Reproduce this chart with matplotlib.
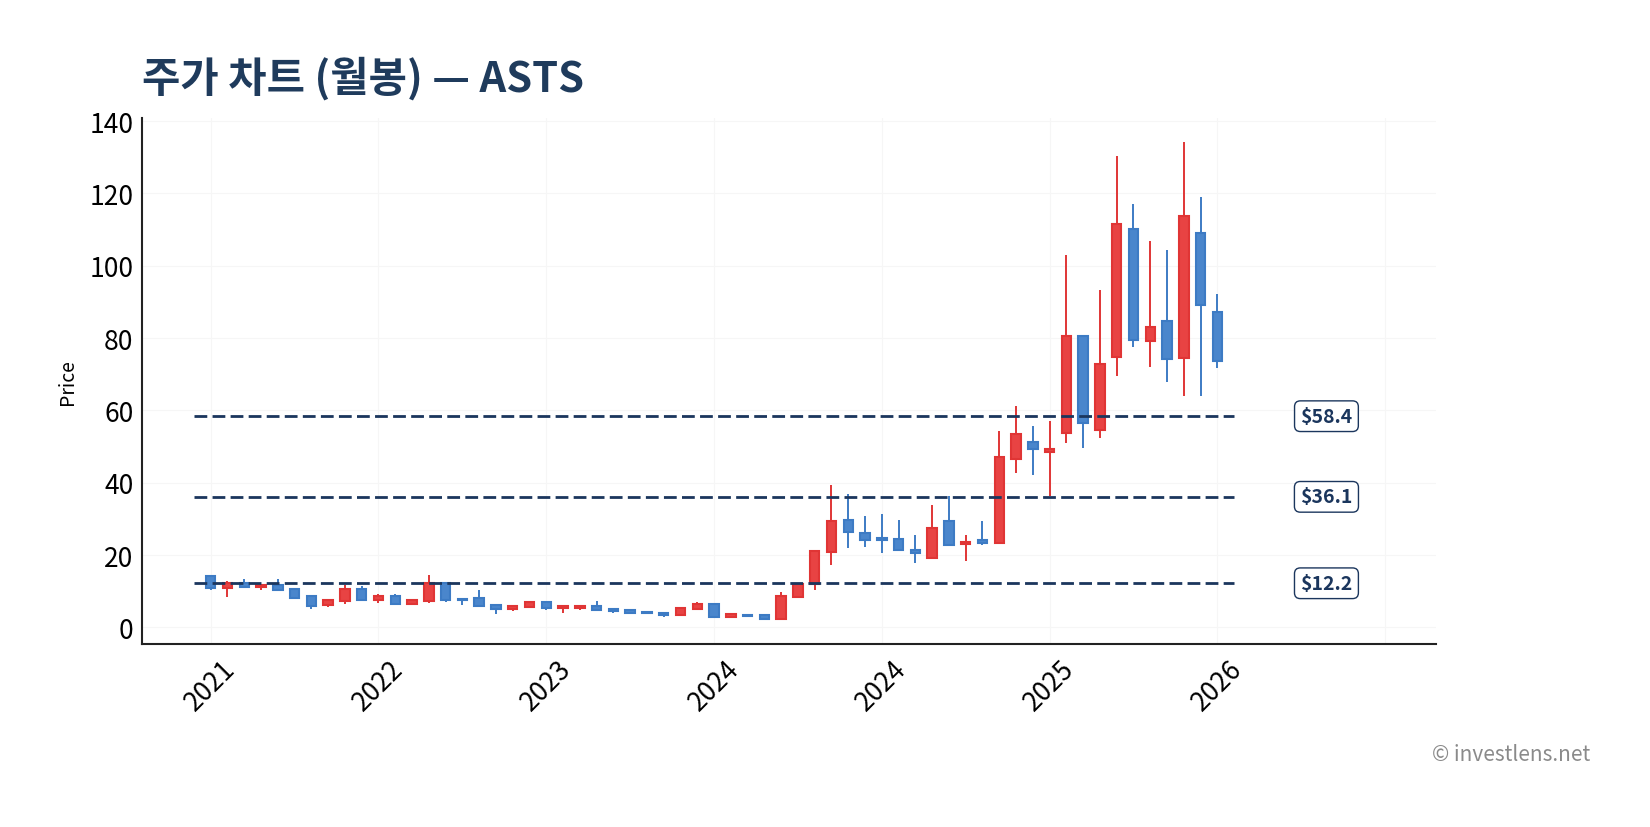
import matplotlib
matplotlib.use("Agg")
import matplotlib.pyplot as plt

plt.rcParams['font.family'] = ['Noto Sans CJK KR', 'DejaVu Sans']

# monthly OHLC
opens = [14.2, 10.9, 12.4, 11.1, 11.6, 10.5, 8.6, 6.1, 7.2, 10.5,
         7.7, 8.8, 6.4, 7.2, 12.4, 7.8, 8.0, 6.1, 5.0, 5.5,
         6.9, 5.3, 5.4, 5.8, 5.0, 4.7, 4.2, 4.1, 3.3, 5.0,
         6.4, 3.0, 3.5, 3.3, 2.2, 8.3, 11.9, 20.8, 29.8, 26.2,
         24.6, 24.5, 21.5, 19.1, 29.5, 23.0, 24.2, 23.3, 46.7, 51.4,
         48.5, 53.7, 80.6, 54.5, 74.8, 110.3, 79.2, 84.8, 74.4, 109.1,
         87.3]
highs = [14.5, 12.8, 13.4, 11.7, 13.4, 10.6, 8.7, 7.6, 11.7, 11.4,
         9.3, 9.3, 7.6, 14.5, 12.6, 8.1, 10.3, 6.2, 5.9, 7.0,
         7.3, 5.9, 6.3, 7.3, 5.0, 5.1, 4.4, 4.2, 5.4, 7.0,
         6.5, 4.0, 3.6, 3.4, 9.7, 12.0, 21.4, 39.4, 36.8, 30.8,
         31.3, 29.7, 25.5, 33.8, 36.4, 25.5, 29.3, 54.2, 61.2, 55.7,
         57.1, 103.0, 80.6, 93.3, 130.3, 117.1, 106.8, 104.3, 134.2, 119.0,
         92.3]
lows = [10.4, 8.5, 11.0, 10.4, 10.1, 8.0, 5.1, 5.6, 6.5, 7.3,
        6.8, 6.3, 6.3, 6.8, 7.1, 6.3, 5.8, 3.8, 4.6, 5.5,
        4.9, 4.0, 4.9, 4.6, 4.1, 4.0, 3.8, 2.9, 3.2, 4.9,
        2.9, 2.9, 3.0, 2.0, 2.0, 8.0, 10.4, 17.3, 22.0, 22.3,
        20.6, 21.2, 17.9, 19.0, 22.5, 18.4, 22.8, 23.0, 42.8, 42.2,
        36.2, 51.1, 49.7, 52.4, 69.6, 77.6, 72.1, 67.9, 63.9, 64.0,
        71.6]
closes = [10.9, 12.4, 11.1, 11.6, 10.2, 8.0, 5.9, 7.5, 10.5, 7.7,
          8.8, 6.4, 7.5, 12.4, 7.5, 7.5, 5.8, 5.0, 5.8, 6.9,
          5.3, 5.8, 5.9, 4.7, 4.4, 4.1, 3.9, 3.3, 5.3, 6.4,
          3.0, 3.6, 3.2, 2.2, 8.6, 11.9, 21.0, 29.5, 26.4, 24.1,
          24.1, 21.3, 20.5, 27.5, 22.8, 23.6, 23.3, 47.2, 53.6, 49.3,
          49.4, 80.6, 56.5, 72.9, 111.6, 79.5, 83.1, 74.2, 113.8, 89.1,
          73.6]

tick_pos = [0, 10, 20, 30, 40, 50, 60, 70]
tick_labels = ['2021', '2022', '2023', '2024', '2024', '2025', '2026', '']
levels = [58.4, 36.1, 12.2]

up_col = '#e84343'
up_edge = '#e03535'
down_col = '#4a86cc'
down_edge = '#3d7bc4'
navy = '#1b365d'

fig = plt.figure(figsize=(16.5, 8.28), dpi=100)
ax = fig.add_axes([0.086, 0.221, 0.784, 0.635])

x = list(range(len(opens)))
for i in x:
    o, h, l, c = opens[i], highs[i], lows[i], closes[i]
    up = c >= o
    col = up_col if up else down_col
    edge = up_edge if up else down_edge
    ax.vlines(i, l, h, color=edge, lw=1.4, zorder=2)
    ax.bar(i, abs(c - o), bottom=min(o, c), width=0.56, color=col,
           edgecolor=edge, linewidth=1.5, zorder=3)

for lv in levels:
    ax.hlines(lv, -1, len(opens), colors=navy, lw=2,
              linestyles=(0, (4.6, 1.9)), zorder=4)
    ax.text(66.5, lv, f'${lv}', ha='center', va='center', fontsize=14,
            fontweight='bold', color=navy, zorder=5,
            bbox=dict(boxstyle='round,pad=0.3', fc='white', ec=navy, lw=1))

ax.set_xlim(-4.1, 73)
ax.set_ylim(-4.6, 140.8)
ax.set_xticks(tick_pos)
ax.set_xticklabels(tick_labels, rotation=45, ha='center')
ax.set_yticks(range(0, 141, 20))
ax.tick_params(axis='both', labelsize=19, length=0, pad=6)
ax.tick_params(axis='x', pad=8)
ax.set_ylabel('Price', fontsize=14, labelpad=8)
ax.grid(True, color='#f6f6f6', lw=0.8)
ax.set_axisbelow(True)
for s in ['top', 'right']:
    ax.spines[s].set_visible(False)
for s in ['left', 'bottom']:
    ax.spines[s].set_color('#222222')
    ax.spines[s].set_linewidth(1.5)

fig.text(0.086, 1 - 79 / 828, '주가 차트 (월봉) — ASTS', fontsize=30,
         fontweight='bold', color='#1f3b5c', ha='left', va='center')
fig.text(0.964, 1 - 755 / 828, '© investlens.net', fontsize=15,
         color='#8a8a8a', ha='right', va='center')

fig.savefig('out.png', dpi=100)
